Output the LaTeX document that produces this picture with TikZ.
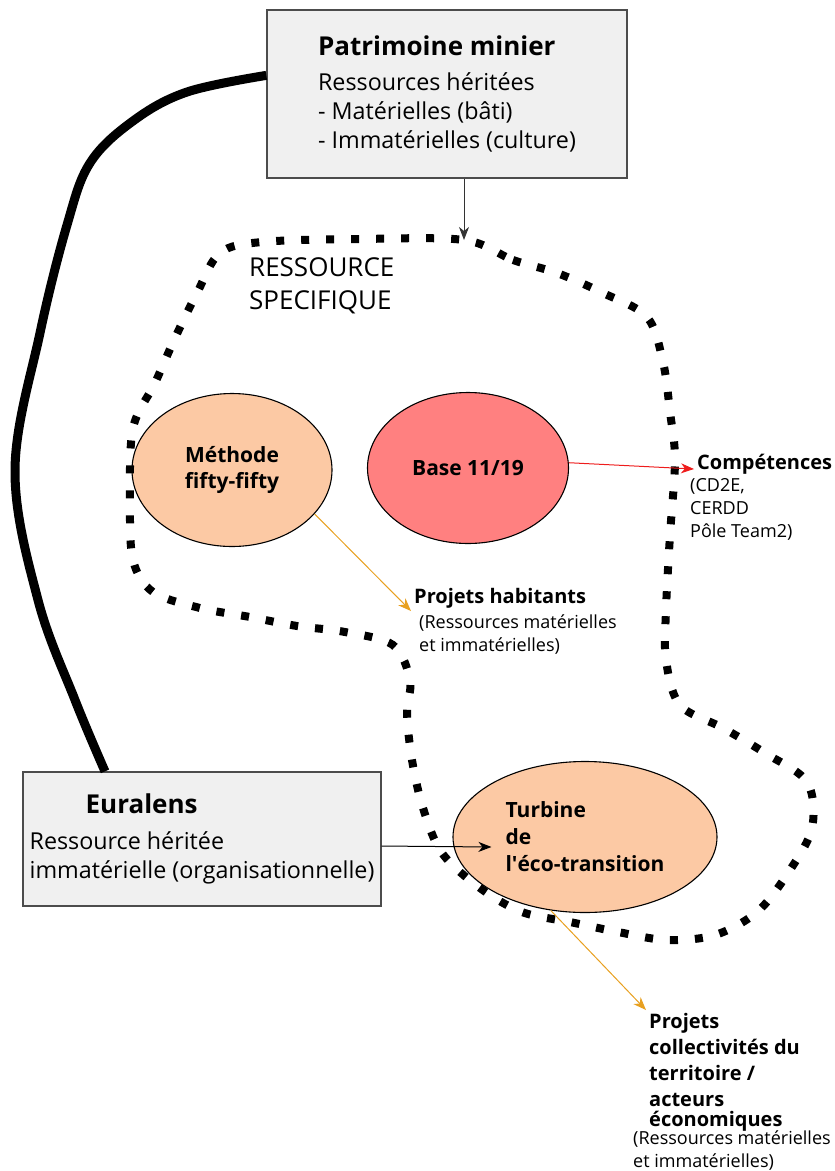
\documentclass[tikz,border=0pt]{standalone}
\usepackage{fontspec}
\setmainfont{Open Sans}
\usetikzlibrary{arrows.meta,calc,positioning,shapes.geometric}

\definecolor{boxgray}{HTML}{F0F0F0}
\definecolor{peach}{HTML}{FCC9A4}
\definecolor{salmon}{HTML}{FF8080}
\definecolor{amber}{HTML}{E8A020}
\definecolor{arrowred}{HTML}{EE1C1C}

\tikzset{
    heritage/.style={draw=black!70, fill=boxgray, line width=1.3pt, rectangle,
        align=left, inner sep=0pt, font=\fontsize{23.3}{29}\selectfont},
    project/.style={draw=black, line width=1.1pt, ellipse, inner sep=0pt,
        font=\bfseries\fontsize{21}{26}\selectfont},
    ressource/.style={line width=8pt, dash pattern=on 8pt off 17pt},
    lien/.style={line width=9pt},
    fleche/.style={-{Stealth[length=13pt,width=10pt,inset=4pt]}, line width=1pt},
    titre/.style={font=\bfseries\fontsize{20}{27}\selectfont, align=left, inner sep=3pt},
    detail/.style={font=\fontsize{18}{23}\selectfont, align=left, inner sep=0pt}
}

\begin{document}
\begin{tikzpicture}[x=1pt,y=-1pt]
    \useasboundingbox (0,0) rectangle (835,1171);
    % ressources heritees
    \node[heritage, minimum width=360pt, minimum height=168pt] (patr) at (447,94)
        {{\bfseries\fontsize{26}{29}\selectfont Patrimoine minier}\\[6pt]
         Ressources héritées\\- Matérielles (bâti)\\- Immatérielles (culture)};
    \node[heritage, minimum width=358pt, minimum height=134pt] (eura) at (202,839)
        {\hspace*{56pt}{\bfseries\fontsize{26}{29}\selectfont Euralens}\\[7pt]
         Ressource héritée\\immatérielle (organisationnelle)};
    \coordinate (h0) at ($(patr.north west)!0.39!(patr.south west)$);
    \coordinate (h1) at ($(eura.north west)!0.23!(eura.north east)$);
    \draw[lien] plot[smooth, tension=0.6] coordinates {(h0) (187,92) (133,121) (90,163)
        (67,225) (40,333) (15,470) (38,600) (75,700) (h1)};
    % projets
    \node[project, fill=peach, minimum width=200pt, minimum height=153pt, align=center] (meth)
        at (232,470) {Méthode\\fifty-fifty};
    \node[project, fill=salmon, minimum width=201pt, minimum height=151pt] (base)
        at (468,468) {Base 11/19};
    \node[project, fill=peach, minimum width=264pt, minimum height=151pt, align=left,
        font=\bfseries\fontsize{21}{27}\selectfont] (turb)
        at (585,837) {Turbine\\de\\l\textquotesingle éco-transition};
    % ressource specifique
    \coordinate (entree) at (464,240);
    \draw[ressource] plot[smooth cycle, tension=0.55] coordinates {(entree) (513,260) (557,273)
        (603,293) (647,317) (663,362) (670,412) (675,460) (670,535) (666,610) (666,660)
        (680,705) (723,728) (765,753) (807,782) (812,828) (788,873) (757,912) (715,935)
        (667,940) (618,932) (570,922) (522,912) (480,888) (442,853) (423,808) (412,760)
        (407,713) (410,680) (393,645) (345,632) (297,626) (250,617) (200,608) (153,592)
        (133,560) (130,500) (133,428) (155,383) (175,338) (197,293) (220,253) (262,242)
        (360,239)};
    \node[align=left, inner sep=0pt, anchor=north west, font=\fontsize{26}{33}\selectfont]
        (specif) at (249,257) {RESSOURCE\\SPECIFIQUE};
    % sorties
    \node[titre, anchor=base west] (comp) at (694,469) {Compétences};
    \node[detail, anchor=north west] (compdet) at (690,478) {(CD2E,\\CERDD\\Pôle Team2)};
    \node[titre, anchor=base west] (projhab) at (411,603) {Projets habitants};
    \node[detail, anchor=north west] (habdet) at (419,614)
        {(Ressources matérielles\\et immatérielles)};
    \node[titre, anchor=north west, font=\bfseries\fontsize{20}{26}\selectfont] (projcol)
        at (646,1010) {Projets\\collectivités du\\territoire /\\acteurs\\[-6pt]économiques};
    \node[detail, anchor=north west] (coldet) at (633,1130)
        {(Ressources matérielles\\et immatérielles)};
    % liens
    \draw[fleche, black!80] (patr.south -| entree) -- (entree);
    \draw[fleche, arrowred] (base.3) -- (comp.base west);
    \draw[fleche, amber] (meth.-28) -- (projhab.south west);
    \draw[fleche, black] ([yshift=-7pt]eura.east) -- ([xshift=39pt,yshift=-10pt]turb.west);
    \draw[fleche, amber] (turb.-115) -- (projcol.north west);
\end{tikzpicture}
\end{document}
